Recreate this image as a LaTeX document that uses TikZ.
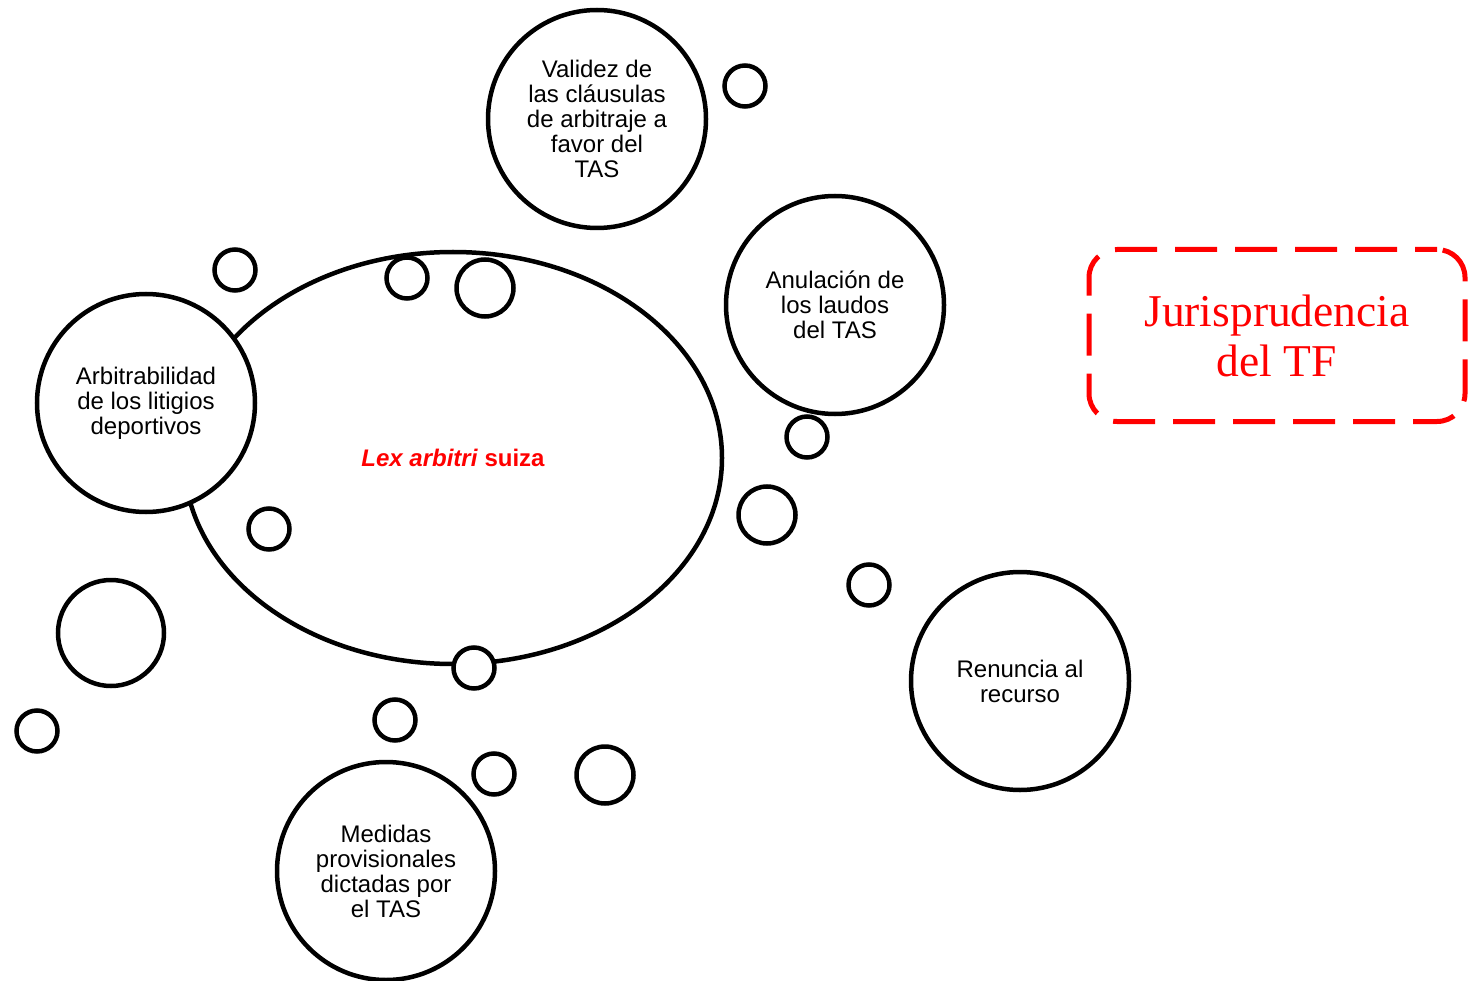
\documentclass[tikz,border=0pt]{standalone}
\usepackage{fontspec}
\usetikzlibrary{shapes.geometric}
\setmainfont{Liberation Sans}
\newfontfamily\serifjur{Liberation Serif}
\begin{document}
\begin{tikzpicture}[x=1pt,y=-1pt,
  bub/.style={circle,draw=black,line width=4.5pt,fill=white,inner sep=0pt},
  big/.style={bub,minimum size=218pt,align=center,font=\fontsize{24}{25}\selectfont},
  sm/.style={bub,minimum size=41pt},
  md/.style={bub,minimum size=57pt},
  lg/.style={bub,minimum size=106pt},
  ]
\useasboundingbox (0,0) rectangle (1474,981);
% central ellipse
\node[ellipse,draw=black,line width=4.5pt,minimum width=538pt,minimum height=412pt,inner sep=0pt] (lex) at (453,458) {};
\node[font=\fontsize{24}{25}\selectfont\bfseries,text=red] (lextxt) at (453,458) {\textit{Lex arbitri} suiza};
% large circles
\node[big] (val) at (597,119) {Validez de\\las cláusulas\\de arbitraje a\\favor del\\TAS};
\node[big] (anu) at (835,305) {Anulación de\\los laudos\\del TAS};
\node[big] (arb) at (146,403) {Arbitrabilidad\\de los litigios\\deportivos};
\node[big] (ren) at (1020,681) {Renuncia al\\recurso};
\node[big] (med) at (386,871) {Medidas\\provisionales\\dictadas por\\el TAS};
% small circles
\node[sm] (s1) at (745,86) {};
\node[sm] (s2) at (235,270) {};
\node[sm] (s3) at (407,278) {};
\node[md] (s4) at (485,288) {};
\node[sm] (s5) at (807,437) {};
\node[md] (s6) at (767,515) {};
\node[sm] (s7) at (869,585) {};
\node[sm] (s8) at (269,529) {};
\node[lg] (s9) at (111,633) {};
\node[sm] (s10) at (37,731) {};
\node[sm] (s11) at (474,668) {};
\node[sm] (s12) at (395,720) {};
\node[sm] (s13) at (494,774) {};
\node[md] (s14) at (605,775) {};
% title box
\node[draw=red,line width=5pt,dash pattern=on 42pt off 18pt,dash phase=20pt,rounded corners=28pt,
      minimum width=376pt,minimum height=172pt,text=red,align=center,
      font=\serifjur\fontsize{45.5}{50}\selectfont] (tf) at (1277,335.5) {Jurisprudencia\\del TF};
\end{tikzpicture}
\end{document}
